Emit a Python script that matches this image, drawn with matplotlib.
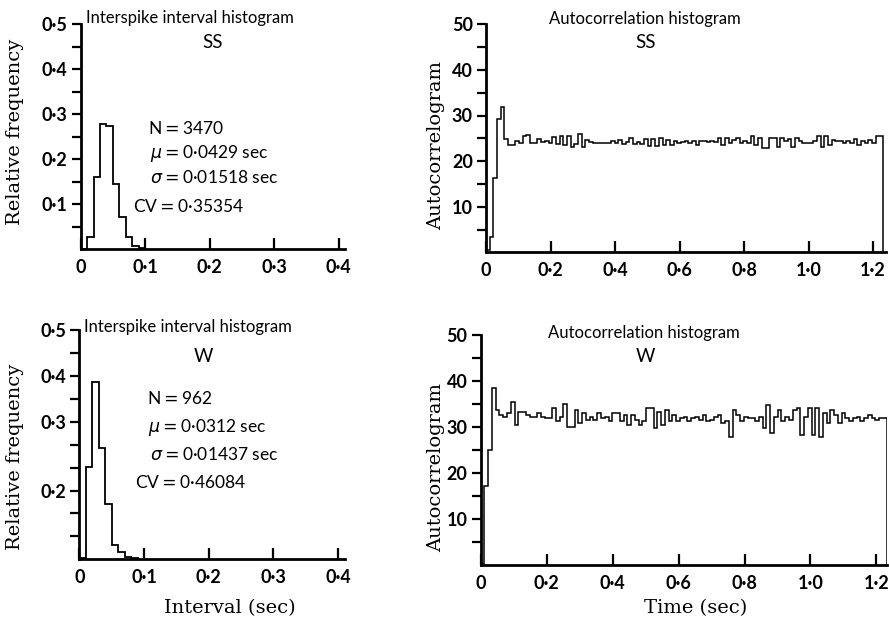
import matplotlib
matplotlib.use("Agg")
import matplotlib.pyplot as plt
from matplotlib.ticker import FixedLocator

# ---- interspike interval histograms (relative frequency, 10 ms bins) ----
isi_bin_width = 0.01
isi_ss = [0.0, 0.028, 0.161, 0.278, 0.274, 0.146, 0.072, 0.027, 0.007, 0.003]
isi_w = [0.003, 0.201, 0.386, 0.243, 0.121, 0.031, 0.016, 0.006, 0.002]

stats_ss = {"N": 3470, "mu": "0·0429", "sigma": "0·01518", "cv": "0·35354"}
stats_w = {"N": 962, "mu": "0·0312", "sigma": "0·01437", "cv": "0·46084"}

# ---- autocorrelation histograms ----
acg_bin_width = 0.0114
acg_ss = [
    0.5, 3.3, 16.3, 29.2, 31.8, 24.8, 23.6, 23.5, 24.5, 24.0,
    25.6, 25.8, 23.9, 24.0, 24.8, 24.2, 24.3, 24.0, 25.2, 23.8,
    25.4, 23.6, 25.6, 23.2, 23.8, 26.0, 23.0, 24.6, 24.2, 24.0,
    24.0, 24.0, 24.0, 23.9, 24.5, 23.9, 24.7, 23.8, 24.2, 25.0,
    23.8, 24.2, 23.8, 24.9, 23.4, 24.8, 23.3, 25.0, 23.5, 24.6,
    23.5, 24.3, 23.9, 24.2, 24.3, 24.0, 24.5, 23.5, 24.3, 24.3,
    24.2, 24.3, 24.2, 25.0, 23.5, 25.0, 23.9, 24.6, 25.0, 23.9,
    24.3, 23.9, 25.5, 23.5, 25.0, 22.8, 22.8, 25.0, 25.0, 23.0,
    25.0, 24.3, 24.8, 23.0, 25.0, 24.3, 23.9, 23.9, 23.9, 24.3,
    25.6, 23.2, 25.4, 23.5, 24.6, 24.3, 24.3, 23.9, 24.3, 23.9,
    24.8, 23.5, 24.3, 24.0, 24.6, 24.0, 25.6, 25.6,
]
acg_w = [
    0.3, 17.2, 25.0, 38.4, 33.7, 32.6, 32.2, 33.0, 35.5, 30.4,
    33.3, 33.3, 32.6, 32.2, 32.2, 33.0, 32.2, 31.9, 31.9, 34.1,
    31.2, 32.2, 35.0, 30.1, 30.1, 33.7, 30.8, 33.0, 31.5, 32.2,
    31.5, 33.0, 31.9, 32.2, 31.2, 33.0, 33.0, 31.2, 32.6, 30.4,
    32.6, 31.5, 30.4, 31.2, 34.1, 34.1, 29.7, 33.3, 30.4, 33.7,
    31.2, 32.6, 31.2, 31.9, 32.2, 31.2, 31.9, 32.2, 31.5, 32.6,
    31.2, 31.5, 32.2, 32.6, 30.8, 31.2, 27.9, 33.7, 32.6, 31.2,
    32.2, 31.9, 31.9, 31.2, 32.2, 29.7, 34.8, 28.6, 32.2, 33.7,
    31.2, 32.2, 31.5, 33.7, 34.1, 28.3, 32.2, 34.1, 28.3, 34.1,
    27.9, 33.0, 30.8, 33.7, 32.6, 30.8, 33.0, 31.9, 31.2, 31.9,
    32.2, 31.2, 31.9, 32.6, 31.9, 31.5, 31.9, 31.9,
]

isi_xticks = [0, 0.1, 0.2, 0.3, 0.4]
isi_xticklabels = ["0", "0·1", "0·2", "0·3", "0·4"]
isi_yticks_ss = [0.1, 0.2, 0.3, 0.4, 0.5]
isi_yticklabels_ss = ["0·1", "0·2", "0·3", "0·4", "0·5"]
isi_yticks_w = [0.15, 0.3, 0.4, 0.5]
isi_yticklabels_w = ["0·2", "0·3", "0·4", "0·5"]
isi_yminor = [0.05 * i for i in range(1, 11)]

acg_xticks = [0, 0.2, 0.4, 0.6, 0.8, 1.0, 1.2]
acg_xticklabels = ["0", "0·2", "0·4", "0·6", "0·8", "1·0", "1·2"]
acg_yticks = [10, 20, 30, 40, 50]
acg_yminor = [5 * i for i in range(1, 11)]

W, H = 889, 621
fig = plt.figure(figsize=(W / 100, H / 100), dpi=100)

SANS = ["Lato", "DejaVu Sans"]
SERIF = ["DejaVu Serif"]


def axes_px(left, top, right, bottom):
    return fig.add_axes([left / W, 1 - bottom / H, (right - left) / W, (bottom - top) / H])


def text_px(x, y, s, **kw):
    fig.text(x / W, 1 - y / H, s, **kw)


def style(ax, xticks, xlabels, yticks, ylabels, yminor):
    for side in ("top", "right"):
        ax.spines[side].set_visible(False)
    for side in ("left", "bottom"):
        ax.spines[side].set_linewidth(2.0)
    ax.xaxis.set_major_locator(FixedLocator(xticks))
    ax.set_xticklabels(xlabels)
    ax.yaxis.set_major_locator(FixedLocator(yticks))
    ax.set_yticklabels(ylabels)
    ax.yaxis.set_minor_locator(FixedLocator(yminor))
    ax.tick_params(axis="x", direction="in", length=8, width=1.6, pad=7)
    ax.tick_params(axis="y", which="both", direction="out", length=6.5, width=1.6, pad=3)
    for lab in ax.get_xticklabels() + ax.get_yticklabels():
        lab.set_fontfamily(SANS)
        lab.set_fontweight("bold")
        lab.set_fontsize(13)
    ax.set_facecolor("none")


def edges(n, w):
    return [i * w for i in range(n + 1)]


# top-left: interspike interval histogram SS
ax_tl = axes_px(80.7, 24, 345, 249.3)
ax_tl.stairs(isi_ss, edges(len(isi_ss), isi_bin_width), color="black", lw=1.3, baseline=0)
ax_tl.set_xlim(0, 0.41)
ax_tl.set_ylim(0, 0.5)
style(ax_tl, isi_xticks, isi_xticklabels, isi_yticks_ss, isi_yticklabels_ss, isi_yminor)

# bottom-left: interspike interval histogram W
ax_bl = axes_px(79.3, 330, 344.6, 559.3)
ax_bl.stairs(isi_w, edges(len(isi_w), isi_bin_width), color="black", lw=1.3, baseline=0)
ax_bl.set_xlim(0, 0.41)
ax_bl.set_ylim(0, 0.5)
style(ax_bl, isi_xticks, isi_xticklabels, isi_yticks_w, isi_yticklabels_w, isi_yminor)

# top-right: autocorrelation histogram SS
ax_tr = axes_px(486, 24.3, 886, 252.3)
ax_tr.stairs(acg_ss, edges(len(acg_ss), acg_bin_width), color="black", lw=1.1, baseline=0)
ax_tr.set_xlim(0, 1.24)
ax_tr.set_ylim(0, 50)
style(ax_tr, acg_xticks, acg_xticklabels, acg_yticks, [str(v) for v in acg_yticks], acg_yminor)

# bottom-right: autocorrelation histogram W
ax_br = axes_px(480.7, 335, 887, 565)
ax_br.stairs(acg_w, edges(len(acg_w), acg_bin_width), color="black", lw=1.1, baseline=0)
ax_br.set_xlim(0, 1.232)
ax_br.set_ylim(0, 50)
style(ax_br, acg_xticks, acg_xticklabels, acg_yticks, [str(v) for v in acg_yticks], acg_yminor)

# panel titles
title_kw = dict(family=SANS, fontsize=12, ha="center", va="center")
name_kw = dict(family=SANS, fontsize=13.5, ha="center", va="center")
text_px(190, 18, "Interspike interval histogram", **title_kw)
text_px(213, 43, "SS", **name_kw)
text_px(188, 327, "Interspike interval histogram", **title_kw)
text_px(203, 356, "W", **name_kw)
text_px(645, 19, "Autocorrelation histogram", **title_kw)
text_px(646, 43, "SS", **name_kw)
text_px(644, 333, "Autocorrelation histogram", **title_kw)
text_px(645, 357, "W", **name_kw)

# summary statistics
stat_kw = dict(family=SANS, fontsize=12.5, ha="left", va="center")
text_px(148, 128, f"N$=${stats_ss['N']}", **stat_kw)
text_px(150, 154, f"$\\mu$$=${stats_ss['mu']} sec", **stat_kw)
text_px(150, 178, f"$\\sigma$$=${stats_ss['sigma']} sec", **stat_kw)
text_px(133, 207, f"CV$=${stats_ss['cv']}", **stat_kw)
text_px(147, 398, f"N$=${stats_w['N']}", **stat_kw)
text_px(148, 428, f"$\\mu$$=${stats_w['mu']} sec", **stat_kw)
text_px(150, 455, f"$\\sigma$$=${stats_w['sigma']} sec", **stat_kw)
text_px(135, 482, f"CV$=${stats_w['cv']}", **stat_kw)

# axis labels
lab_kw = dict(family=SERIF, fontsize=14, ha="center", va="center")
text_px(15, 132, "Relative frequency", rotation=90, **lab_kw)
text_px(15, 457, "Relative frequency", rotation=90, **lab_kw)
text_px(436, 145, "Autocorrelogram", rotation=90, **lab_kw)
text_px(436, 468, "Autocorrelogram", rotation=90, **lab_kw)
text_px(230, 608, "Interval (sec)", **lab_kw)
text_px(696, 608, "Time (sec)", **lab_kw)

fig.savefig("out.png", dpi=100)
